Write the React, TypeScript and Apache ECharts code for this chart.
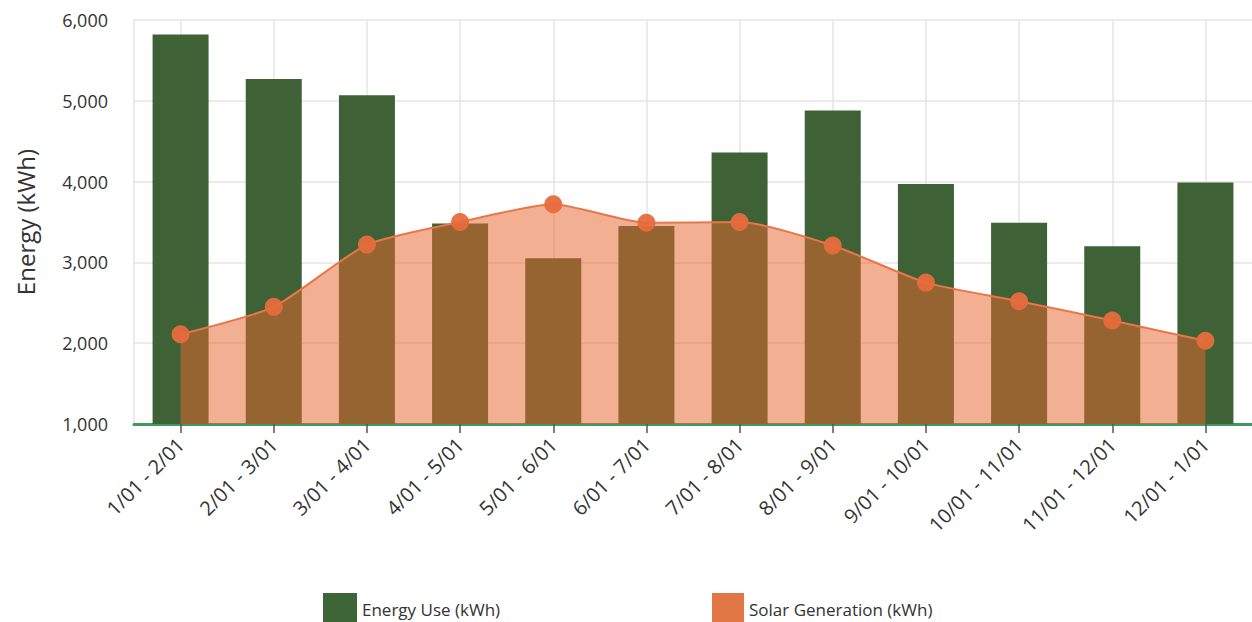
import React, { useEffect, useRef } from "react";
import * as echarts from "echarts";

const categories = [
  "1/01 - 2/01", "2/01 - 3/01", "3/01 - 4/01", "4/01 - 5/01", "5/01 - 6/01", "6/01 - 7/01",
  "7/01 - 8/01", "8/01 - 9/01", "9/01 - 10/01", "10/01 - 11/01", "11/01 - 12/01", "12/01 - 1/01",
];
const energyUse = [5820, 5270, 5070, 3480, 3050, 3450, 4360, 4880, 3970, 3490, 3200, 3990];
const solarGeneration = [2110, 2450, 3220, 3500, 3720, 3490, 3500, 3210, 2750, 2520, 2280, 2030];
const yTicks = { min: 1000, max: 6000, interval: 1000 };

const FONT = "'Open Sans', 'Noto Sans', sans-serif";

export default function App() {
  const ref = useRef<HTMLDivElement>(null);
  useEffect(() => {
    document.body.style.margin = "0";
    const chart = echarts.init(ref.current!, null, { renderer: "svg" });
    chart.setOption({
      animation: false,
      backgroundColor: "#ffffff",
      textStyle: { fontFamily: FONT },
      grid: { left: 134, top: 20, width: 1120, height: 404 },
      legend: [
        {
          data: [{ name: "Energy Use (kWh)", icon: "rect", itemStyle: { color: "#3e6536" } }],
          left: 318, top: 588, itemWidth: 34, itemHeight: 32, itemGap: 8,
          textStyle: { fontSize: 17, color: "#333", fontFamily: FONT },
        },
        {
          data: [{ name: "Solar Generation (kWh)", icon: "rect", itemStyle: { color: "#e0703c" } }],
          left: 707, top: 588, itemWidth: 32, itemHeight: 32, itemGap: 8,
          textStyle: { fontSize: 17, color: "#333", fontFamily: FONT },
        },
      ],
      xAxis: {
        type: "category",
        data: categories,
        boundaryGap: true,
        axisLine: { show: true, lineStyle: { color: "#3e9a5e", width: 3 } },
        axisTick: { show: true, alignWithLabel: true, length: 9, lineStyle: { color: "#555", width: 1.5 } },
        splitLine: { show: true, alignWithLabel: true, lineStyle: { color: "#e4e4e4", width: 1.5 } } as any,
        axisLabel: {
          rotate: 45, fontSize: 20, color: "#333", margin: 17, interval: 0, fontFamily: FONT,
        },
      },
      yAxis: {
        type: "value",
        min: yTicks.min,
        max: yTicks.max,
        interval: yTicks.interval,
        name: "Energy (kWh)",
        nameLocation: "middle",
        nameGap: 97,
        nameTextStyle: { fontSize: 24, color: "#333", fontFamily: FONT },
        axisLine: { show: true, lineStyle: { color: "#e4e4e4", width: 1.5 } },
        axisTick: { show: false },
        splitLine: { show: true, lineStyle: { color: "#e4e4e4", width: 1.5 } },
        axisLabel: {
          fontSize: 18, color: "#333", margin: 26, fontFamily: FONT,
          formatter: (v: number) => v.toLocaleString("en-US"),
        },
      },
      series: [
        {
          name: "Energy Use (kWh)",
          type: "bar",
          data: energyUse,
          barWidth: 56,
          z: 2,
          itemStyle: { color: "#3e6235" },
        },
        {
          name: "Solar Generation (kWh)",
          type: "line",
          data: solarGeneration,
          smooth: 0.2,
          z: 3,
          symbol: "circle",
          symbolSize: 18,
          itemStyle: { color: "#e66c3c", opacity: 0.95 },
          lineStyle: { color: "#e8764a", width: 2 },
          areaStyle: { color: "#e8652e", opacity: 0.52 },
        },
      ],
    });
    return () => chart.dispose();
  }, []);
  return (
    <div
      ref={ref}
      style={{ position: "fixed", left: 0, top: 0, width: 1252, height: 622 }}
    />
  );
}
